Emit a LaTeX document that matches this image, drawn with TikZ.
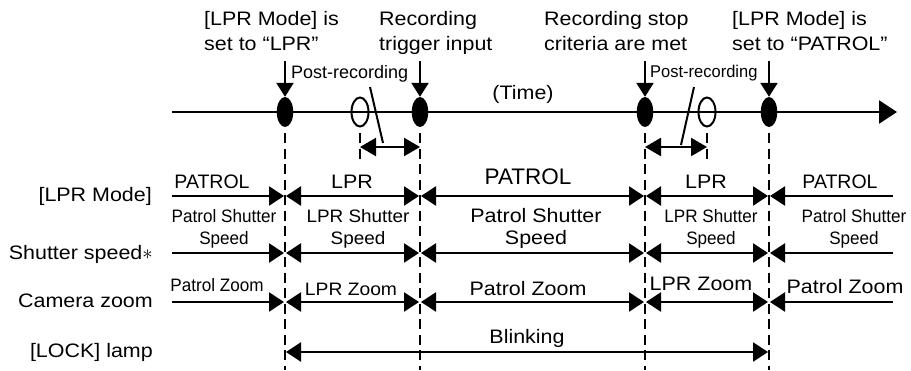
\documentclass[tikz,border=0pt]{standalone}
\usepackage{fontspec}
\setmainfont{Liberation Sans}
\usepackage{graphicx}
\usetikzlibrary{arrows.meta,shapes.geometric}

% horizontal stretch of a label
\newcommand{\hs}[2]{\scalebox{#1}[1]{#2}}

\begin{document}
\begin{tikzpicture}[x=1pt,y=-1pt,
  tip/.tip={Triangle[length=15pt,width=19pt]},
  dtip/.tip={Triangle[length=16pt,width=18pt]},
  ttip/.tip={Triangle[length=18pt,width=23pt]},
  vtip/.tip={Triangle[length=14pt,width=17pt]},
  line/.style={line width=2.4pt},
  guide/.style={line width=2.3pt, dash pattern=on 10pt off 5.5pt},
  dot/.style={ellipse, fill=black, minimum width=16.5pt, minimum height=30pt, inner sep=0pt},
  ring/.style={ellipse, draw=black, line width=2pt, minimum width=17pt, minimum height=29pt, inner sep=0pt},
  big/.style={font=\fontsize{19.5}{22}\selectfont, inner sep=0pt, anchor=base},
  mid/.style={font=\fontsize{18}{21}\selectfont, inner sep=0pt, anchor=base},
]
\useasboundingbox (0,0) rectangle (911,370);

% ---- time axis ----
\coordinate (tl-start) at (172,112);
\coordinate (tl-end) at (897,112);
\draw[line width=2.5pt,-{ttip}] (tl-start) -- (tl-end);

\node[dot]  (d1) at (285,112) {};
\node[dot]  (d2) at (420,112) {};
\node[dot]  (d3) at (645,112) {};
\node[dot]  (d4) at (769,112) {};
\node[ring] (o1) at (360,112) {};
\node[ring] (o2) at (707,112) {};

% event arrows
\foreach \i/\x in {1/285,2/420,3/645,4/769}{
  \coordinate (ev\i) at (\x,61);
  \draw[line,-{vtip}] (ev\i) -- (d\i.north);
}

% slashes through the post-recording ends
\coordinate (s1a) at (370,87);  \coordinate (s1b) at (383,143);
\coordinate (s2a) at (694,87);  \coordinate (s2b) at (681,145);
\draw[line width=2pt] (s1a) -- (s1b);
\draw[line width=2pt] (s2a) -- (s2b);

% guide lines
\foreach \i/\x in {1/285,2/420,3/645,4/769}{
  \coordinate (g\i t) at (\x,133);
  \coordinate (g\i b) at (\x,370);
  \draw[guide] (g\i t) -- (g\i b);
}
\coordinate (h1t) at (360,133); \coordinate (h1b) at (360,163);
\coordinate (h2t) at (707,133); \coordinate (h2b) at (707,163);
\draw[guide] (h1t) -- (h1b);
\draw[guide] (h2t) -- (h2b);

% post-recording spans
\coordinate (p1a) at (360,147); \coordinate (p1b) at (420,147);
\coordinate (p2a) at (645,147); \coordinate (p2b) at (707,147);
\draw[line,{dtip}-{dtip}] (p1a) -- (p1b);
\draw[line,{dtip}-{dtip}] (p2a) -- (p2b);

% ---- state rows ----
\foreach \r/\y in {1/196,2/253,3/302}{
  \foreach \k/\x in {0/172,1/285,2/420,3/645,4/769,5/893}
    \coordinate (row\r-\k) at (\x,\y);
  \draw[line,-{tip},shorten >=1pt] (row\r-0) -- (row\r-1);
  \draw[line,{tip}-{tip},shorten >=1pt,shorten <=1pt] (row\r-1) -- (row\r-2);
  \draw[line,{tip}-{tip},shorten >=1pt,shorten <=1pt] (row\r-2) -- (row\r-3);
  \draw[line,{tip}-{tip},shorten >=1pt,shorten <=1pt] (row\r-3) -- (row\r-4);
  \draw[line,{tip}-,shorten <=1pt] (row\r-4) -- (row\r-5);
}
\coordinate (row4-1) at (285,352);
\coordinate (row4-4) at (769,352);
\draw[line,{tip}-{tip},shorten >=1pt,shorten <=1pt] (row4-1) -- (row4-4);

% ---- event captions ----
\node[big,anchor=base west] (c1a) at (204,25) {\hs{1.1}{[LPR Mode] is}};
\node[big,anchor=base west] (c1b) at (204,50) {\hs{1.1}{set to “LPR”}};
\node[big,anchor=base west] (c2a) at (379,25) {\hs{1.1}{Recording}};
\node[big,anchor=base west] (c2b) at (379,50) {\hs{1.1}{trigger input}};
\node[big,anchor=base west] (c3a) at (544,25) {\hs{1.1}{Recording stop}};
\node[big,anchor=base west] (c3b) at (544,50) {\hs{1.1}{criteria are met}};
\node[big,anchor=base west] (c4a) at (732,25) {\hs{1.1}{[LPR Mode] is}};
\node[big,anchor=base west] (c4b) at (732,50) {\hs{1.1}{set to “PATROL”}};

\node[mid,anchor=base west] (pr1) at (291,78) {Post-recording};
\node[mid,anchor=base west,font=\fontsize{17}{20}\selectfont] (pr2) at (650,77) {\hs{0.97}{Post-recording}};
\node[big] (time) at (523,99) {\hs{1.1}{(Time)}};

% ---- row titles ----
\node[big,anchor=base east] (t1) at (152,201) {\hs{1.1}{[LPR Mode]}};
\node[big,anchor=base east] (t2) at (153,259) {\hs{1.1}{Shutter speed}$\ast$};
\node[big,anchor=base east] (t3) at (153,307) {\hs{1.1}{Camera zoom}};
\node[big,anchor=base east] (t4) at (153,357) {\hs{1.1}{[LOCK] lamp}};

% ---- row 1: mode ----
\node[big] (m1) at (212,188) {PATROL};
\node[big] (m2) at (352,188) {\hs{1.1}{LPR}};
\node[big,font=\fontsize{22.5}{25}\selectfont] (m3) at (528,184) {PATROL};
\node[big] (m4) at (706,188) {\hs{1.1}{LPR}};
\node[big] (m5) at (840,188) {PATROL};

% ---- row 2: shutter ----
\node[mid] (s1) at (224,222) {\hs{0.95}{Patrol Shutter}};
\node[mid] (s1b) at (224,244) {\hs{0.95}{Speed}};
\node[mid] (s2) at (358,222) {\hs{1.05}{LPR Shutter}};
\node[mid] (s2b) at (358,244) {\hs{1.05}{Speed}};
\node[big] (s3) at (536,222) {\hs{1.1}{Patrol Shutter}};
\node[big] (s3b) at (536,244) {\hs{1.1}{Speed}};
\node[mid] (s4) at (711,222) {\hs{0.95}{LPR Shutter}};
\node[mid] (s4b) at (711,244) {\hs{0.95}{Speed}};
\node[mid] (s5) at (854,222) {\hs{0.95}{Patrol Shutter}};
\node[mid] (s5b) at (854,244) {\hs{0.95}{Speed}};

% ---- row 3: zoom ----
\node[mid] (z1) at (217,291) {\hs{0.95}{Patrol Zoom}};
\node[mid] (z2) at (351,295) {\hs{1.07}{LPR Zoom}};
\node[big] (z3) at (528,295) {\hs{1.1}{Patrol Zoom}};
\node[big] (z4) at (701,290) {\hs{1.1}{LPR Zoom}};
\node[big] (z5) at (845,293) {\hs{1.1}{Patrol Zoom}};

% ---- row 4: lamp ----
\node[big] (b1) at (527,343) {\hs{1.1}{Blinking}};
\end{tikzpicture}
\end{document}
